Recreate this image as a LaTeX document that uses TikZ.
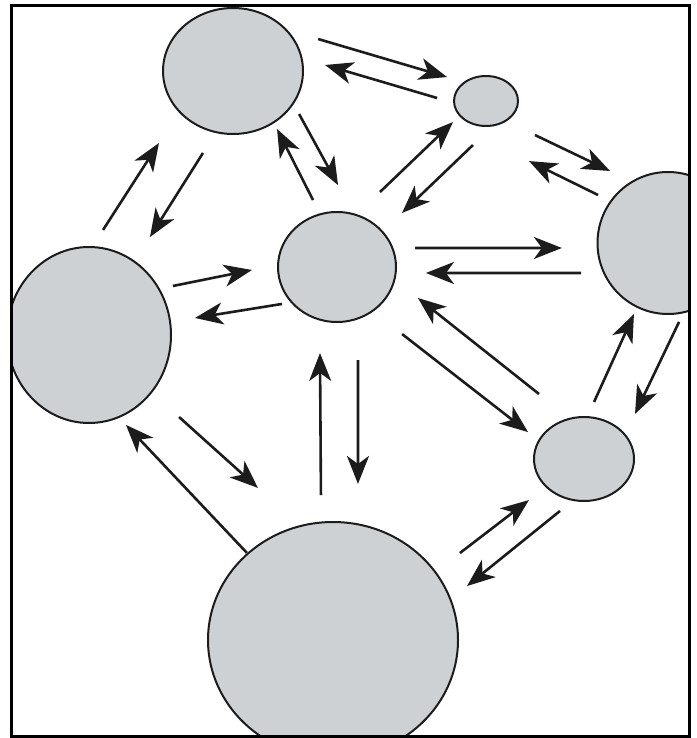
\documentclass[tikz,border=0pt]{standalone}
\usetikzlibrary{shapes.geometric,calc,arrows.meta}
\definecolor{cellgray}{RGB}{206,209,211}
\definecolor{inkgray}{RGB}{28,28,28}
\begin{document}
\begin{tikzpicture}[x=1pt,y=-1pt,
	cell/.style={ellipse,draw=inkgray,fill=cellgray,line width=2pt,inner sep=0pt,outer sep=0pt},
	flow/.style={-{Stealth[length=28pt,width=22pt,inset=8pt]},line width=2.6pt,draw=inkgray}]
	\useasboundingbox (0,0) rectangle (696,738);

	%cells, cut by the frame
	\begin{scope}
		\clip (11.5,6) rectangle (689,736.5);
		\node[cell,minimum width=140pt,minimum height=126pt] (tl) at (233,71){};
		\node[cell,minimum width=64pt,minimum height=50pt] (tr) at (486,101){};
		\node[cell,minimum width=141pt,minimum height=142pt] (rt) at (668,243){};
		\node[cell,minimum width=118pt,minimum height=110pt] (ctr) at (337,267){};
		\node[cell,minimum width=164pt,minimum height=176pt] (lf) at (89,335){};
		\node[cell,minimum width=100pt,minimum height=84pt] (br) at (584,459){};
		\node[cell,minimum width=250pt,minimum height=236pt] (bot) at (333,640){};
	\end{scope}

	%frame
	\draw[line width=3pt] (11.5,6) rectangle (689,736.5);

	%tl <-> tr
	\draw[flow] ($(tl)!0.317!(tr)!41.8pt!90:(tr)$) -- ($(tl)!0.837!(tr)!19.2pt!90:(tr)$);
	\draw[flow] ($(tl)!0.808!(tr)!-2.8pt!90:(tr)$) -- ($(tl)!0.356!(tr)!16.8pt!90:(tr)$);
	%tl <-> ctr
	\draw[flow] ($(tl)!0.311!(ctr)!38.2pt!90:(ctr)$) -- ($(tl)!0.676!(ctr)!39.3pt!90:(ctr)$);
	\draw[flow] ($(tl)!0.683!(ctr)!10.2pt!90:(ctr)$) -- ($(tl)!0.324!(ctr)!11.7pt!90:(ctr)$);
	%tl <-> lf
	\draw[flow] ($(tl)!0.671!(lf)!-38.0pt!90:(lf)$) -- ($(tl)!0.328!(lf)!-30.5pt!90:(lf)$);
	\draw[flow] ($(tl)!0.287!(lf)!12.9pt!90:(lf)$) -- ($(tl)!0.617!(lf)!6.6pt!90:(lf)$);
	%ctr <-> tr
	\draw[flow] ($(ctr)!0.379!(tr)!18.1pt!90:(tr)$) -- ($(ctr)!0.831!(tr)!10.5pt!90:(tr)$);
	\draw[flow] ($(ctr)!0.814!(tr)!-19.7pt!90:(tr)$) -- ($(ctr)!0.375!(tr)!-12.3pt!90:(tr)$);
	%tr <-> rt
	\draw[flow] ($(tr)!0.258!(rt)!3.3pt!90:(rt)$) -- ($(tr)!0.610!(rt)!21.1pt!90:(rt)$);
	\draw[flow] ($(tr)!0.633!(rt)!-5.2pt!90:(rt)$) -- ($(tr)!0.307!(rt)!-20.9pt!90:(rt)$);
	%ctr <-> rt
	\draw[flow] ($(ctr)!0.239!(rt)!13.3pt!90:(rt)$) -- ($(ctr)!0.680!(rt)!2.7pt!90:(rt)$);
	\draw[flow] ($(ctr)!0.732!(rt)!-23.6pt!90:(rt)$) -- ($(ctr)!0.266!(rt)!-12.4pt!90:(rt)$);
	%ctr <-> br
	\draw[flow] ($(ctr)!0.296!(br)!-13.0pt!90:(br)$) -- ($(ctr)!0.806!(br)!-13.1pt!90:(br)$);
	\draw[flow] ($(ctr)!0.759!(br)!23.7pt!90:(br)$) -- ($(ctr)!0.265!(br)!25.2pt!90:(br)$);
	%br <-> rt
	\draw[flow] ($(br)!0.245!(rt)!11.3pt!90:(rt)$) -- ($(br)!0.661!(rt)!6.0pt!90:(rt)$);
	\draw[flow] ($(br)!0.700!(rt)!-38.9pt!90:(rt)$) -- ($(br)!0.261!(rt)!-31.2pt!90:(rt)$);
	%lf <-> ctr
	\draw[flow] ($(lf)!0.365!(ctr)!25.1pt!90:(ctr)$) -- ($(lf)!0.678!(ctr)!19.6pt!90:(ctr)$);
	\draw[flow] ($(lf)!0.756!(ctr)!-21.1pt!90:(ctr)$) -- ($(lf)!0.415!(ctr)!-11.6pt!90:(ctr)$);
	%lf <-> bot
	\draw[flow] ($(lf)!0.688!(bot)!-12.8pt!90:(bot)$) -- ($(lf)!0.239!(bot)!-27.3pt!90:(bot)$);
	\draw[flow] ($(lf)!0.308!(bot)!19.1pt!90:(bot)$) -- ($(lf)!0.576!(bot)!36.4pt!90:(bot)$);
	%ctr <-> bot
	\draw[flow] ($(ctr)!0.612!(bot)!-13.6pt!90:(bot)$) -- ($(ctr)!0.231!(bot)!-16.1pt!90:(bot)$);
	\draw[flow] ($(ctr)!0.249!(bot)!22.0pt!90:(bot)$) -- ($(ctr)!0.581!(bot)!23.3pt!90:(bot)$);
	%bot <-> br
	\draw[flow] ($(bot)!0.497!(br)!-3.7pt!90:(br)$) -- ($(bot)!0.778!(br)!-1.1pt!90:(br)$);
	\draw[flow] ($(bot)!0.839!(br)!-28.1pt!90:(br)$) -- ($(bot)!0.453!(br)!-34.6pt!90:(br)$);
\end{tikzpicture}
\end{document}
